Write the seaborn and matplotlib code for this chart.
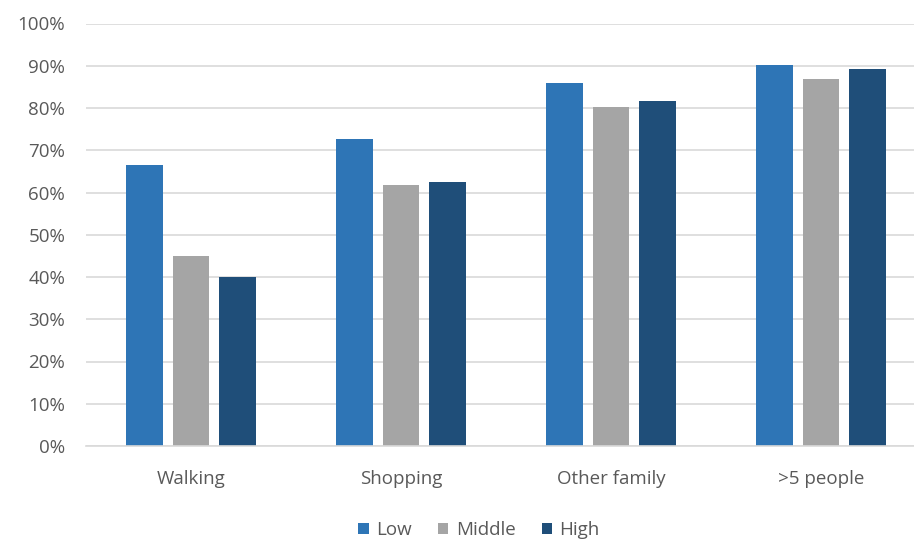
import numpy as np
import pandas as pd
import matplotlib
matplotlib.use('Agg')
import matplotlib.pyplot as plt
import seaborn as sns
from matplotlib.ticker import PercentFormatter

categories = ['Walking', 'Shopping', 'Other family', '>5 people']
levels = ['Low', 'Middle', 'High']
low = [66.5, 72.6, 85.8, 90.2]
middle = [45.0, 61.7, 80.2, 86.8]
high = [39.9, 62.6, 81.6, 89.2]
colors = ['#2E75B6', '#A5A5A5', '#1F4E79']

df = pd.DataFrame({
    'category': categories * 3,
    'level': [l for l in levels for _ in categories],
    'value': low + middle + high,
})

sns.set_style('white')
plt.rcParams['font.family'] = ['Open Sans', 'DejaVu Sans']

fig = plt.figure(figsize=(9.14, 5.42), dpi=100)
ax = fig.add_axes([86 / 914, 1 - 446 / 542, 840 / 914, (446 - 23.5) / 542])

sns.barplot(data=df, x='category', y='value', hue='level', hue_order=levels,
            palette=colors, width=0.66, gap=0.2, ax=ax, saturation=1,
            edgecolor='none')

ax.set_ylim(0, 100)
ax.set_xlim(-0.5, 3.5)
ax.set_yticks(np.arange(0, 101, 10))
ax.yaxis.set_major_formatter(PercentFormatter(decimals=0))
ax.grid(axis='y', color='#D9D9D9', linewidth=1.2)
ax.set_axisbelow(True)
for s in ['top', 'right', 'left']:
    ax.spines[s].set_visible(False)
ax.spines['bottom'].set_color('#D9D9D9')
ax.spines['bottom'].set_linewidth(1.2)
ax.tick_params(axis='both', length=0, labelsize=13.5, colors='#595959')
ax.tick_params(axis='y', pad=15)
ax.tick_params(axis='x', pad=17)
ax.set_xlabel('')
ax.set_ylabel('')

ax.legend(loc='center', bbox_to_anchor=(479 / 914, 1 - 530 / 542),
          bbox_transform=fig.transFigure, ncol=3, frameon=False,
          fontsize=13.5, labelcolor='#595959', handlelength=0.55, handleheight=0.55,
          handletextpad=0.4, columnspacing=1.4)

fig.savefig('out.png', dpi=100)
